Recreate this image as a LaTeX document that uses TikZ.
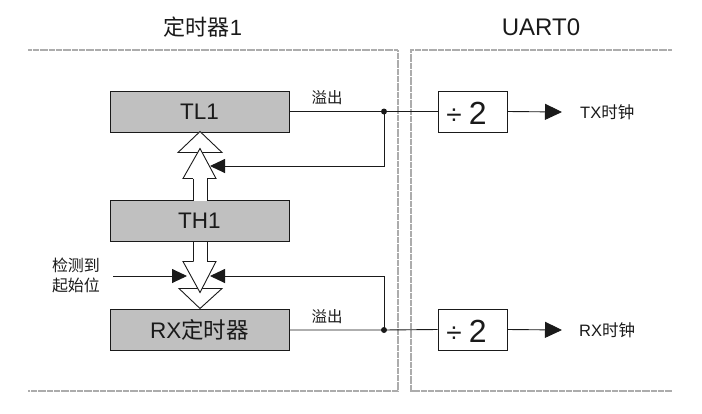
\documentclass[tikz,border=0pt]{standalone}
\usepackage{fontspec}
\setmainfont{Liberation Sans}
\newfontfamily\cjk{Noto Sans CJK SC}
\usetikzlibrary{arrows.meta,calc}
\definecolor{boxgray}{HTML}{C0C0C0}
\definecolor{ink}{HTML}{1A1A1A}
\begin{document}
\begin{tikzpicture}[x=1pt,y=-1pt,
  reg/.style={draw=ink,fill=boxgray,line width=1pt,minimum width=179pt,minimum height=41pt,inner sep=0pt,text=ink,font=\fontsize{22.5}{24}\selectfont},
  divbox/.style={draw=ink,fill=white,line width=1pt,minimum width=69pt,minimum height=41pt,inner sep=0pt},
  wire/.style={draw=ink,line width=0.9pt},
  panel/.style={draw=gray!65,line width=1.1pt,dash pattern=on 2pt off 0.3pt},
  hollow/.style={draw=ink,fill=white,line width=0.9pt,line join=miter},
  blackhead/.style={-{Triangle[length=15pt,width=14pt]}},
  outhead/.style={-{Triangle[length=17pt,width=16pt]}},
  lbl/.style={font=\fontsize{15.5}{17}\selectfont\cjk,text=ink,inner sep=0pt},
  clk/.style={font=\fontsize{16.5}{18}\selectfont,text=ink,inner sep=0pt,anchor=west},
  title/.style={text=ink,inner sep=0pt},
]
\useasboundingbox (0,0) rectangle (702,413);

% panels
\draw[panel] (28,50) -- (398,50) -- (398,391) -- (28,391);
\draw[panel] (672,50) -- (411,50) -- (411,391) -- (672,391);

% titles
\node[title,font=\fontsize{22}{24}\selectfont] (t1) at (203,27) {{\cjk 定时器}1};
\node[title,font=\fontsize{24}{26}\selectfont] (t2) at (541,27) {UART0};

% registers
\node[reg] (TL1) at (199.5,111.5) {TL1};
\node[reg] (TH1) at (199.5,220.5) {TH1};
\node[reg] (RXT) at (199.5,330) {RX{\cjk 定时器}};

% divide boxes
\node[divbox] (dtx) at (472.5,111.5) {};
\node[divbox] (drx) at (472.5,329.5) {};
\node[text=ink,inner sep=0pt,font=\fontsize{32}{34}\selectfont] (dtxl) at ([xshift=-6pt,yshift=-2pt]dtx.center) {{\fontsize{28}{30}\selectfont ÷}\hspace{7pt}2};
\node[text=ink,inner sep=0pt,font=\fontsize{32}{34}\selectfont] (drxl) at ([xshift=-6pt,yshift=-2pt]drx.center) {{\fontsize{28}{30}\selectfont ÷}\hspace{7pt}2};

% junctions and targets
\coordinate (j1) at (384,111.5);
\coordinate (j2) at (384,330);
\coordinate (fb1) at (210,166);
\coordinate (fb2) at (210,276);
\coordinate (in0) at (113,276);
\coordinate (in1) at (187,276);

% hollow arrow TH1 -> TL1
\begin{scope}[shift={(TL1.south)}]
  \draw[hollow] (0.5,-1) -- (-21.5,20) -- (22.5,20) -- cycle;
  \draw[hollow] (-6.5,46) -- (-16.5,46) -- (0.5,16) -- (16.5,46) -- (7.5,46);
  \fill[white] (-6.5,45) rectangle (7.5,68);
  \draw[wire] (-6.5,46) -- (-6.5,68) (7.5,46) -- (7.5,68);
\end{scope}

% hollow arrow TH1 -> RX timer
\begin{scope}[shift={(TH1.south)}]
  \draw[hollow] (-20.5,47) -- (22.5,47) -- (0.5,67) -- cycle;
  \fill[white] (-6.5,0) rectangle (7.5,21);
  \draw[wire] (-6.5,0) -- (-6.5,20) (7.5,0) -- (7.5,20);
  \draw[hollow] (-6.5,20) -- (-16.5,20) -- (0.5,51) -- (16.5,20) -- (7.5,20);
\end{scope}

% overflow wires
\draw[wire] (TL1.east) -- (j1) -- (dtx.west);
\draw[wire] (RXT.east) -- (j2) -- (drx.west);
\fill[ink] (j1) circle (3pt);
\fill[ink] (j2) circle (3pt);
\draw[wire,blackhead] (j1) |- (fb1);
\draw[wire,blackhead] (j2) |- (fb2);
\draw[wire,blackhead] (in0) -- (in1);

\node[lbl] (ov1) at (327,98) {溢出};
\node[lbl] (ov2) at (327,317) {溢出};

\node[lbl,font=\fontsize{16}{20}\selectfont\cjk,align=left] (det) at (76,275.5) {检测到\\起始位};

% outputs
\node[clk] (txc) at (580,112) {TX{\cjk 时钟}};
\node[clk] (rxc) at (579,330) {RX{\cjk 时钟}};
\draw[wire,outhead] (dtx.east) -- ([xshift=-18pt]txc.west);
\draw[wire,outhead] (drx.east) -- ([xshift=-17pt]rxc.west);
\end{tikzpicture}
\end{document}
